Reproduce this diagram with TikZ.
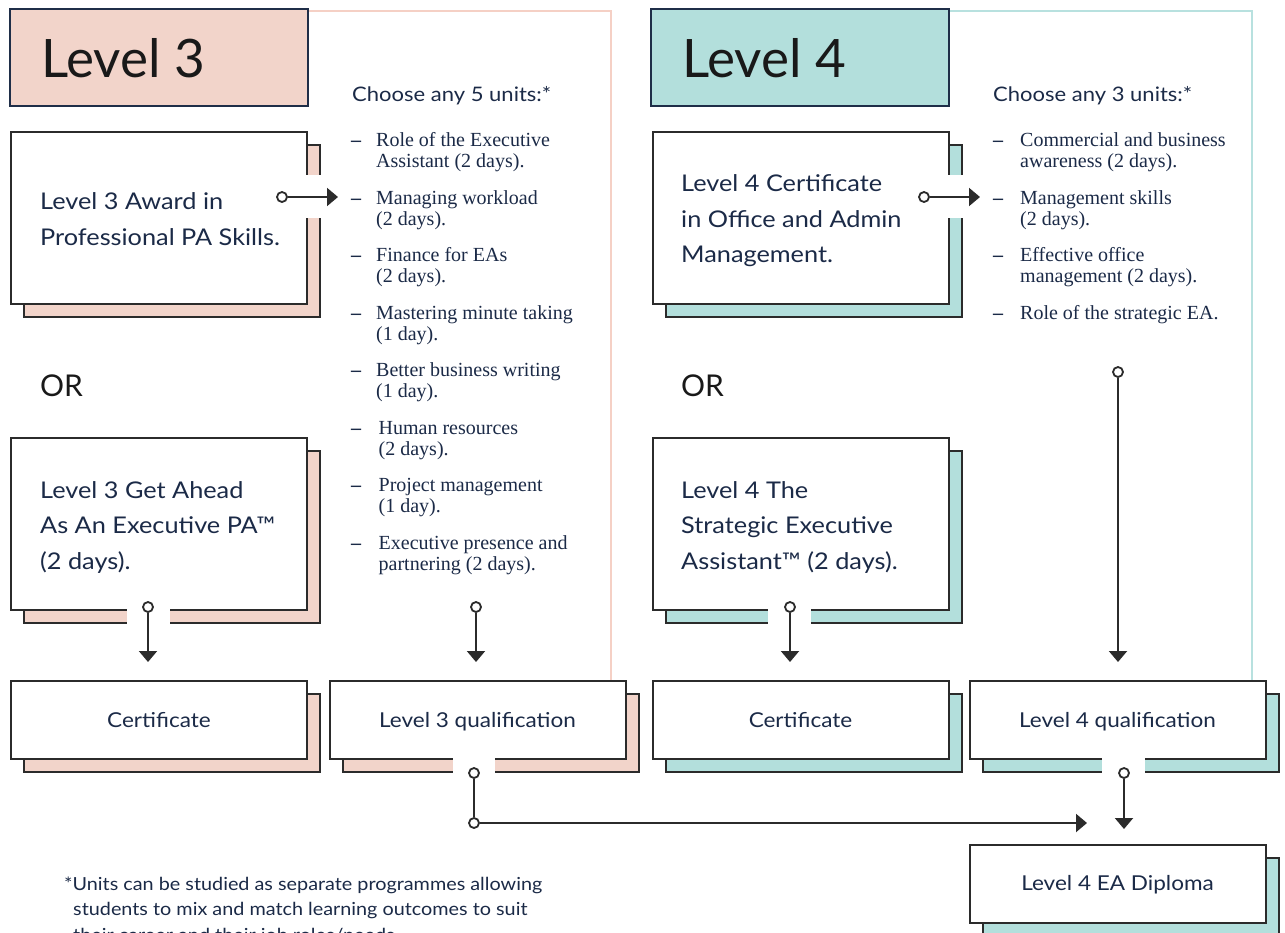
\documentclass[tikz,border=0pt]{standalone}
\usepackage{fontspec}
\setmainfont{Lato}
\newfontfamily\widesans[FakeStretch=1.1]{Lato}
\newfontfamily\unitfont{Liberation Serif}
\usetikzlibrary{arrows.meta,shadows}
\definecolor{pinkfill}{HTML}{F2D4CA}
\definecolor{tealfill}{HTML}{B3DFDC}
\definecolor{pinkline}{HTML}{F5D0C5}
\definecolor{tealline}{HTML}{B8E1DF}
\definecolor{navy}{HTML}{1B2A47}
\definecolor{ink}{HTML}{2B2B2B}
\definecolor{hdrline}{HTML}{1F2E48}
\begin{document}
\begin{tikzpicture}[x=1pt,y=-1pt,
  hdr/.style={draw=hdrline, line width=1.5pt, minimum width=298pt, minimum height=97pt, inner sep=0},
  hdrtext/.style={anchor=base west, inner sep=0, text=black!90, font=\fontsize{53}{60}\selectfont},
  big/.style={draw=ink, line width=2pt, fill=white, minimum width=296pt, minimum height=172pt, inner sep=0},
  small/.style={draw=ink, line width=2pt, fill=white, minimum width=296pt, minimum height=78pt, inner sep=0, text height=17.5pt, text depth=3.5pt, text=navy, font=\widesans\fontsize{20.5}{24}\selectfont},
  sh3/.style={general shadow={shadow xshift=13pt, shadow yshift=-13pt, fill=pinkfill, draw=ink, line width=2pt}},
  sh4/.style={general shadow={shadow xshift=13pt, shadow yshift=-13pt, fill=tealfill, draw=ink, line width=2pt}},
  boxtext/.style={anchor=base west, inner sep=0, align=left, text=navy, font=\widesans\fontsize{23}{35.5}\selectfont},
  ortext/.style={anchor=base west, inner sep=0, text=black!90, font=\fontsize{30}{36}\selectfont},
  choose/.style={anchor=base west, inner sep=0, text=navy, font=\widesans\fontsize{20}{24}\selectfont},
  unit/.style={anchor=base west, inner sep=0, align=left, text=navy, font=\unitfont\fontsize{20}{21}\selectfont},
  unitdash/.style={anchor=base west, inner sep=0, text=navy, font=\unitfont\bfseries\fontsize{20}{21}\selectfont},
  note/.style={anchor=base west, inner sep=0, align=left, text=navy, font=\widesans\fontsize{18}{25.5}\selectfont},
  dot/.style={circle, draw=ink, fill=white, line width=1.8pt, minimum size=10pt, inner sep=0},
  conn/.style={draw=ink, line width=2pt, -{Triangle[length=11pt,width=18pt]}},
  plain/.style={draw=ink, line width=2pt},
  gap/.style={fill=white}
]
\useasboundingbox (0,0) rectangle (1285,932);
\clip (0,0) rectangle (1285,932);
\fill[white] (0,0) rectangle (1285,932);

% frames
\draw[pinkline, line width=2pt] (308,11) -- (611,11) -- (611,700);
\draw[tealline, line width=2pt] (949,11) -- (1252,11) -- (1252,700);

% headers
\node[hdr, fill=pinkfill] (h3) at (159,57.5) {};
\node[hdr, fill=tealfill] (h4) at (800,57.5) {};
\node[hdrtext] (h3t) at (41,77) {Level 3};
\node[hdrtext] (h4t) at (682,77) {Level 4};

% big boxes
\node[big, sh3] (award) at (159,218) {};
\node[big, sh3] (ahead) at (159,524) {};
\node[big, sh4] (cert4) at (800.5,218) {};
\node[big, sh4] (strat) at (800.5,524) {};

% small boxes
\node[small, sh3] (certA) at (159,720) {Certificate};
\node[small, sh3] (qual3) at (477.5,720) {Level 3 qualification};
\node[small, sh4] (certB) at (800.5,720) {Certificate};
\node[small, sh4] (qual4) at (1117.5,720) {Level 4 qualification};
\node[small, sh4] (dipl) at (1117.5,883.5) {Level 4 EA Diploma};

% gaps in borders/shadows
\fill[gap] (300,175) rectangle (326,218);
\fill[gap] (941,175) rectangle (967,218);
\fill[gap] (127,603) rectangle (170,628);
\fill[gap] (768,603) rectangle (811,628);
\fill[gap] (453,755) rectangle (495,778);
\fill[gap] (1102,755) rectangle (1145,778);

% box texts (anchored at last baseline)
\node[boxtext] (t1) at (40,245) {Level 3 Award in\\Professional PA Skills.};
\node[boxtext] (t2) at (40,569) {Level 3 Get Ahead\\As An Executive PA™\\(2 days).};
\node[boxtext] (t3) at (681,262.5) {Level 4 Certificate\\in Office and Admin\\Management.};
\node[boxtext] (t4) at (681,569) {Level 4 The\\Strategic Executive\\Assistant™ (2 days).};

\node[ortext] (or3) at (40,396.5) {OR};
\node[ortext] (or4) at (681,396.5) {OR};

% unit lists
\node[choose] (ch3) at (352,101.5) {Choose any 5 units:*};
\node[choose] (ch4) at (993,101.5) {Choose any 3 units:*};

\foreach \y in {146.5,204,261.5,319,376.5,434,491.5,549}
  \node[unitdash] at (351,\y) {–};
\node[unit] (u1) at (376,167.5) {Role of the Executive\\Assistant (2 days).};
\node[unit] (u2) at (376,225) {Managing workload\\(2 days).};
\node[unit] (u3) at (376,282.5) {Finance for EAs\\(2 days).};
\node[unit] (u4) at (376,340) {Mastering minute taking\\(1 day).};
\node[unit] (u5) at (376,397.5) {Better business writing\\(1 day).};
\node[unit] (u6) at (378.5,455) {Human resources\\(2 days).};
\node[unit] (u7) at (378.5,512.5) {Project management\\(1 day).};
\node[unit] (u8) at (378.5,570) {Executive presence and\\partnering (2 days).};

\foreach \y in {146.5,204,261.5,319}
  \node[unitdash] at (993,\y) {–};
\node[unit] (v1) at (1020,167.5) {Commercial and business\\awareness (2 days).};
\node[unit] (v2) at (1020,225) {Management skills\\(2 days).};
\node[unit] (v3) at (1020,282.5) {Effective office\\management (2 days).};
\node[unit] (v4) at (1020,319) {Role of the strategic EA.};

% footnote (third line is cut by the lower edge, as in the original)
\node[note] (fn) at (64,941) {*Units can be studied as separate programmes allowing\\
\hspace*{9pt}students to mix and match learning outcomes to suit\\
\hspace*{9pt}their career and their job roles/needs.};

% connectors
\node[dot] (d1) at (282,197) {};
\coordinate (a1) at (338,197);
\draw[conn] (d1) -- (a1);
\node[dot] (d2) at (924,197) {};
\coordinate (a2) at (980,197);
\draw[conn] (d2) -- (a2);

\node[dot] (d3) at (148,607) {};
\node[dot] (d4) at (476,607) {};
\node[dot] (d5) at (790,607) {};
\node[dot] (d6) at (1118,372) {};
\coordinate (e3) at (148,662);
\coordinate (e4) at (476,662);
\coordinate (e5) at (790,662);
\coordinate (e6) at (1118,662);
\draw[conn] (d3) -- (e3);
\draw[conn] (d4) -- (e4);
\draw[conn] (d5) -- (e5);
\draw[conn] (d6) -- (e6);

\node[dot] (d7) at (474,773) {};
\node[dot] (d8) at (474,823) {};
\coordinate (e8) at (1087,823);
\draw[plain] (d7) -- (d8);
\draw[conn] (d8) -- (e8);

\node[dot] (d9) at (1124,773) {};
\coordinate (e9) at (1124,829);
\draw[conn] (d9) -- (e9);
\end{tikzpicture}
\end{document}
